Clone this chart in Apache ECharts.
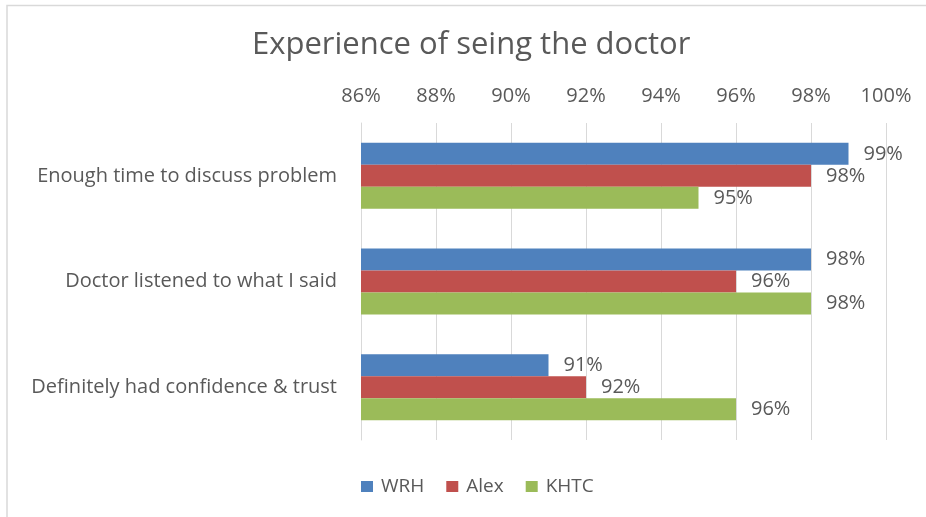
<!DOCTYPE html>
<html>
<head>
<meta charset="utf-8">
<script src="https://cdn.jsdelivr.net/npm/echarts@6/dist/echarts.min.js"></script>
<style>
html,body{margin:0;padding:0;background:#fff;}
#chart{width:926px;height:517px;}
</style>
</head>
<body>
<div id="chart"></div>
<script>
var categories = ["Enough time to discuss problem", "Doctor listened to what I said", "Definitely had confidence & trust"];
var seriesNames = ["WRH", "Alex", "KHTC"];
var wrh = [99, 98, 91];
var alex = [98, 96, 92];
var khtc = [95, 98, 96];
var colors = ["#4F81BD", "#C0504D", "#9BBB59"];
var axisMin = 86, axisMax = 100, axisStep = 2;

var FONT = "Open Sans";
var TXT = "#595959";

function mkSeries(name, data, color) {
  return {
    name: name,
    type: "bar",
    data: data,
    itemStyle: { color: color },
    barGap: "0%",
    barCategoryGap: "37.5%",
    label: {
      show: true,
      position: "right",
      distance: 15,
      formatter: "{c}%",
      color: TXT,
      fontFamily: FONT,
      fontSize: 20
    }
  };
}

var chart = echarts.init(document.getElementById("chart"));
chart.setOption({
  animation: false,
  backgroundColor: "#fff",
  textStyle: { fontFamily: FONT },
  graphic: [{
    type: "rect",
    shape: { x: 7, y: 5.5, width: 940, height: 540 },
    style: { fill: "none", stroke: "#d9d9d9", lineWidth: 1.5 },
    silent: true
  }],
  title: {
    text: "Experience of seing the doctor",
    left: 252,
    top: 30,
    padding: 0,
    textStyle: { fontFamily: FONT, fontSize: 31, fontWeight: "normal", color: TXT }
  },
  legend: {
    bottom: 16,
    left: 356,
    itemWidth: 12,
    itemHeight: 11,
    itemGap: 22,
    icon: "rect",
    data: seriesNames,
    textStyle: { fontFamily: FONT, fontSize: 19, color: TXT, padding: [0, 0, 0, 3] }
  },
  grid: { left: 361, right: 40, top: 123, bottom: 77, containLabel: false },
  xAxis: {
    type: "value",
    position: "top",
    min: axisMin,
    max: axisMax,
    interval: axisStep,
    axisLine: { show: false },
    axisTick: { show: false },
    splitLine: { show: true, lineStyle: { color: "#d9d9d9", width: 1 } },
    axisLabel: { formatter: "{value}%", color: TXT, fontFamily: FONT, fontSize: 20, margin: 17 }
  },
  yAxis: {
    type: "category",
    inverse: true,
    data: categories,
    axisLine: { show: true, lineStyle: { color: "#d9d9d9", width: 1 } },
    axisTick: { show: false },
    axisLabel: { color: TXT, fontFamily: FONT, fontSize: 20, margin: 24 }
  },
  series: [
    mkSeries(seriesNames[0], wrh, colors[0]),
    mkSeries(seriesNames[1], alex, colors[1]),
    mkSeries(seriesNames[2], khtc, colors[2])
  ]
});
</script>
</body>
</html>
